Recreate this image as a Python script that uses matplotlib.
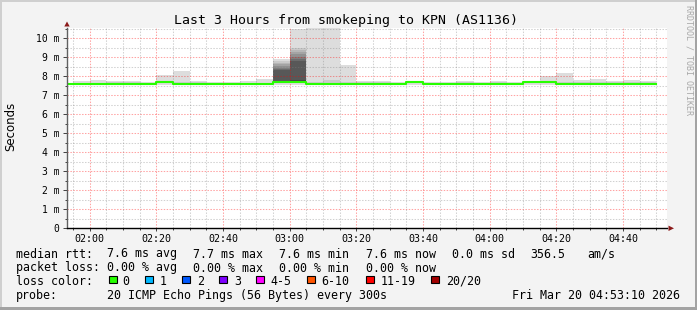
import matplotlib
matplotlib.use("Agg")
import matplotlib.pyplot as plt
from matplotlib.patches import Polygon, Rectangle

# ---------------- data ----------------
step_labels = ["01:50", "01:55", "02:00", "02:05", "02:10", "02:15", "02:20", "02:25",
               "02:30", "02:35", "02:40", "02:45", "02:50", "02:55", "03:00", "03:05",
               "03:10", "03:15", "03:20", "03:25", "03:30", "03:35", "03:40", "03:45",
               "03:50", "03:55", "04:00", "04:05", "04:10", "04:15", "04:20", "04:25",
               "04:30", "04:35", "04:40", "04:45"]
median_ms = [7.6, 7.6, 7.6, 7.6, 7.6, 7.6, 7.7, 7.6, 7.6, 7.6, 7.6, 7.6, 7.6, 7.7, 7.7, 7.6,
             7.6, 7.6, 7.6, 7.6, 7.6, 7.7, 7.6, 7.6, 7.6, 7.6, 7.6, 7.6, 7.7, 7.7, 7.6, 7.6,
             7.6, 7.6, 7.6, 7.6]
ping_min_ms = [7.56] * 36
ping_min_ms[21] = 7.53
# highest pings of each step (ping20, ping19, ...); the rest equal the median
ping_upper_ms = [
    [7.66], [7.75, 7.66], [7.8, 7.66], [7.75, 7.7], [7.75, 7.7], [7.68],
    [8.05, 7.74], [8.28, 7.7], [7.75, 7.7], [7.72, 7.66], [7.68], [7.74, 7.66],
    [7.85, 7.66],
    [8.91, 8.82, 8.72, 8.63, 8.54, 8.45, 8.38, 8.33, 7.78],
    [10.48, 9.5, 9.38, 9.26, 9.15, 9.03, 8.92, 8.82, 7.8],
    [11.5, 7.72], [11.0, 7.8], [8.59, 7.7], [7.75, 7.7], [7.75, 7.7],
    [7.7], [7.74], [7.7], [7.7], [7.75, 7.68], [7.72], [7.75, 7.68], [7.7],
    [7.74], [8.0, 7.74], [8.19, 7.68], [7.8, 7.68], [7.85, 7.68], [7.75, 7.68],
    [7.8, 7.7], [7.75, 7.7],
]
x_tick_labels = ["02:00", "02:20", "02:40", "03:00", "03:20", "03:40", "04:00", "04:20", "04:40"]
y_tick_values = [0, 1, 2, 3, 4, 5, 6, 7, 8, 9, 10]
y_tick_labels = ["0", "1 m", "2 m", "3 m", "4 m", "5 m", "6 m", "7 m", "8 m", "9 m", "10 m"]
loss_labels = ["0", "1", "2", "3", "4-5", "6-10", "11-19", "20/20"]
loss_colors = ["#26ff00", "#00b8ff", "#0059ff", "#7e00ff", "#ff00ff", "#ff5500", "#ff0000", "#a10000"]
rtt_items = ["7.6 ms avg", "7.7 ms max", "7.6 ms min", "7.6 ms now", "0.0 ms sd", "356.5", "am/s"]
loss_items = ["0.00 % avg", "0.00 % max", "0.00 % min", "0.00 % now"]
title = "Last 3 Hours from smokeping to KPN (AS1136)"
probe_text = "20 ICMP Echo Pings (56 Bytes) every 300s"
date_text = "Fri Mar 20 04:53:10 2026"

# ---------------- layout helpers ----------------
W, H, DPI = 697, 310, 100
MONO = "DejaVu Sans Mono"


def fx(x):
    return x / W


def fy(y):
    return 1 - y / H


def tmin(s):
    h, m = s.split(":")
    return int(h) * 60 + int(m)


fig = plt.figure(figsize=(W / DPI, H / DPI), dpi=DPI, facecolor="#f3f3f3")

AX_L, AX_R, AX_T, AX_B = 67, 667, 27.9, 228.3
ax = fig.add_axes([fx(AX_L), fy(AX_B), (AX_R - AX_L) / W, (AX_B - AX_T) / H])
ax.set_facecolor("white")

x0 = tmin("01:53") + 10 / 60
x1 = x0 + 180
ax.set_xlim(x0, x1)
ax.set_ylim(0, 10.55)

# ---------------- smoke ----------------
edges = [tmin(s) for s in step_labels] + [tmin(step_labels[-1]) + 5]
n = len(step_labels)
for k in range(1, 11):
    lower, upper = [], []
    for i in range(n):
        u = ping_upper_ms[i] + [median_ms[i]] * (10 - len(ping_upper_ms[i]))
        lower.append(ping_min_ms[i] if k == 1 else median_ms[i])
        upper.append(u[k - 1])
    g = int(190 / 10 * (10 - k)) + 50
    col = "#%02x%02x%02x" % (g, g, g)
    ax.fill_between(edges, lower + [lower[-1]], upper + [upper[-1]], step="post",
                    color=col, lw=0, zorder=1)

# ---------------- grid ----------------
minor_col = (0.5, 0.5, 0.5, 0.36)
major_col = (1.0, 0.0, 0.0, 0.36)
m = 115
while m < x1:
    c = major_col if m % 20 == 0 else minor_col
    ax.axvline(m, color=c, lw=0.75, ls=(0, (1.4, 1.4)), zorder=2.5, snap=True)
    m += 5
for j in range(1, 22):
    v = j * 0.5
    c = major_col if j % 2 == 0 else minor_col
    ax.axhline(v, color=c, lw=0.75, ls=(0, (1.4, 1.4)), zorder=2.5, snap=True)

# ---------------- median line ----------------
ax.step(edges, median_ms + [median_ms[-1]], where="post", color="#26ff00", lw=1.5, zorder=3)

# ---------------- axes ----------------
for s in ["top", "right"]:
    ax.spines[s].set_visible(False)
ax.spines["left"].set_color("#606060")
ax.spines["bottom"].set_color("#000000")
ax.spines["left"].set_linewidth(1.0)
ax.spines["bottom"].set_linewidth(1.0)
ax.spines["left"].set_zorder(4)
ax.spines["bottom"].set_zorder(4)

ax.set_xticks([tmin(s) for s in x_tick_labels])
ax.set_xticklabels(x_tick_labels, fontfamily=MONO, fontsize=7.2)
ax.set_xticks([tmin("01:55") + 5 * i for i in range(36)], minor=True)
ax.set_yticks(y_tick_values)
ax.set_yticklabels(y_tick_labels, fontfamily=MONO, fontsize=7)
ax.set_yticks([0.5 + i for i in range(11)], minor=True)
ax.tick_params(axis="x", which="major", length=2.5, width=0.7, pad=1.3, color="#404040")
ax.tick_params(axis="x", which="minor", length=1.5, width=0.7, color="#404040")
ax.tick_params(axis="y", which="major", length=3, width=0.7, pad=2.4, color="#404040")
ax.tick_params(axis="y", which="minor", length=1.5, width=0.7, color="#404040")

# arrows
arrow_col = "#8b1a1a"
fig.patches.append(Polygon([(fx(67), fy(21.5)), (fx(64.3), fy(26.5)), (fx(69.7), fy(26.5))],
                           closed=True, transform=fig.transFigure, color=arrow_col, lw=0))
fig.patches.append(Polygon([(fx(674), fy(228.3)), (fx(668.5), fy(225.6)), (fx(668.5), fy(231))],
                           closed=True, transform=fig.transFigure, color=arrow_col, lw=0))

# ---------------- texts ----------------
fig.text(fx(346.3), fy(24), title, fontfamily=MONO, fontsize=9.5, ha="center", va="baseline")
fig.text(fx(10.5), fy(126), "Seconds", fontfamily="DejaVu Sans", fontsize=8.5, rotation=90,
         ha="center", va="center")
fig.text(fx(688.5), fy(60), "RRDTOOL / TOBI OETIKER", fontfamily=MONO, fontsize=6,
         rotation=-90, ha="center", va="center", color="#a8a8a8")

LEG = 8.4
fig.text(fx(16), fy(257.5), "median rtt:", fontfamily=MONO, fontsize=LEG, va="baseline")
for xp, t in zip([107, 193, 279, 366, 452, 530, 587], rtt_items):
    fig.text(fx(xp), fy(257.5), t, fontfamily=MONO, fontsize=LEG, va="baseline")
fig.text(fx(16), fy(271.5), "packet loss:", fontfamily=MONO, fontsize=LEG, va="baseline")
for xp, t in zip([107, 193, 279, 366], loss_items):
    fig.text(fx(xp), fy(271.5), t, fontfamily=MONO, fontsize=LEG, va="baseline")
fig.text(fx(16), fy(285), "loss color:", fontfamily=MONO, fontsize=LEG, va="baseline")
box_x = [109, 145.3, 182.3, 219, 256, 307, 366, 431]
lab_x = [122.7, 160, 197.3, 234, 270.7, 321.7, 381, 446]
for bx, lx, lab, col in zip(box_x, lab_x, loss_labels, loss_colors):
    fig.patches.append(Rectangle((fx(bx), fy(283)), 7.5 / W, 7.5 / H, transform=fig.transFigure,
                                 facecolor=col, edgecolor="black", lw=0.8))
    fig.text(fx(lx), fy(285), lab, fontfamily=MONO, fontsize=LEG, va="baseline")
fig.text(fx(16), fy(299.3), "probe:", fontfamily=MONO, fontsize=LEG, va="baseline")
fig.text(fx(107), fy(299.3), probe_text, fontfamily=MONO, fontsize=LEG, va="baseline")
fig.text(fx(680), fy(299.3), date_text, fontfamily=MONO, fontsize=LEG, va="baseline", ha="right")

# ---------------- border shade ----------------
fig.patches.append(Rectangle((0, fy(2)), 1, 2 / H, transform=fig.transFigure, color="#cfcfcf", lw=0))
fig.patches.append(Rectangle((0, 0), 2 / W, 1, transform=fig.transFigure, color="#cfcfcf", lw=0))
fig.patches.append(Rectangle((0, 0), 1, 3 / H, transform=fig.transFigure, color="#a3a3a3", lw=0))
fig.patches.append(Rectangle((fx(695), 0), 2 / W, 1, transform=fig.transFigure, color="#a3a3a3", lw=0))

fig.savefig("out.png", dpi=DPI, facecolor=fig.get_facecolor())
